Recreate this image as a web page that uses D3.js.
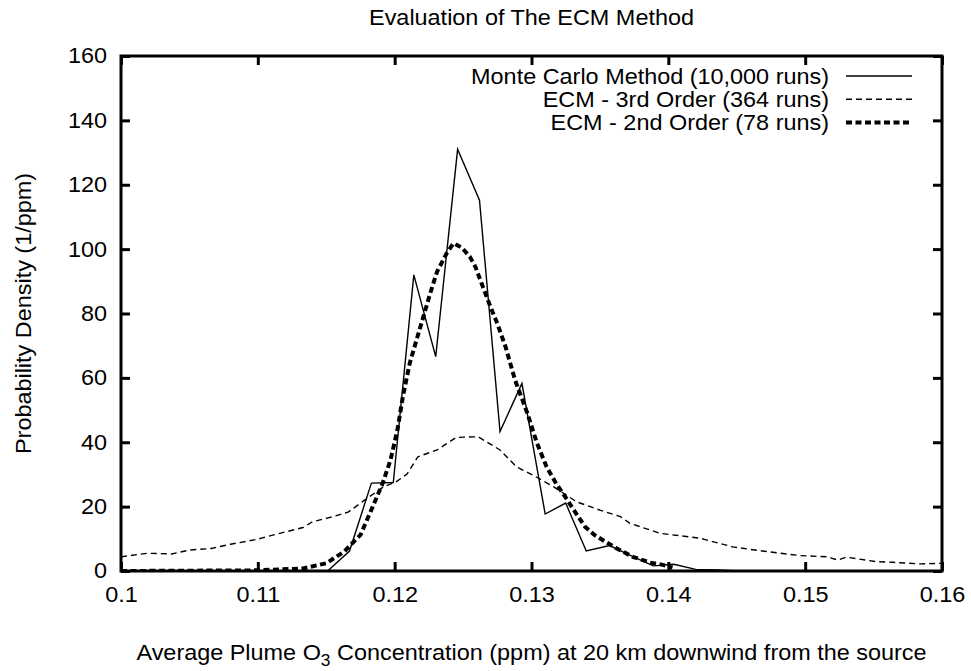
<!DOCTYPE html>
<html>
<head>
<meta charset="utf-8">
<script src="https://cdn.jsdelivr.net/npm/d3@7"></script>
<style>
  body { margin: 0; background: #fff; }
  svg text { font-family: "Liberation Sans", Arial, Helvetica, sans-serif; fill: #000; }
</style>
</head>
<body>
<svg class="chart" width="971" height="671"></svg>
<script>
var width = 971,
	height = 671,
	plotLeft = 121, plotRight = 942,
	plotTop = 56, plotBottom = 571;

// Monte Carlo histogram (10,000 runs)
var mcX = [0.1, 0.1151, 0.1167, 0.1183, 0.1199, 0.1214, 0.1230, 0.1246, 0.1262, 0.1277, 0.1293,
	0.1310, 0.1325, 0.1340, 0.1357, 0.1373, 0.1389, 0.1404, 0.1420, 0.1436, 0.1452, 0.16];
var mcY = [0, 0, 6.2, 27.3, 27.5, 92, 66.6, 131, 115.2, 43.3, 58.3,
	17.7, 21.1, 6.2, 7.9, 4.7, 1.6, 2.1, 0.5, 0.3, 0, 0];

// ECM 3rd order (364 runs)
var ecm3X = [0.1, 0.1019, 0.1037, 0.1050, 0.1066, 0.1080, 0.1099, 0.1116, 0.1133, 0.1140, 0.1155,
	0.1166, 0.1178, 0.1192, 0.1201, 0.1209, 0.1217, 0.1231, 0.1245, 0.1261, 0.1277, 0.1289,
	0.1301, 0.1316, 0.1333, 0.1350, 0.1365, 0.1372, 0.1394, 0.1423, 0.1447, 0.1467, 0.1496,
	0.1516, 0.1524, 0.1530, 0.1552, 0.1564, 0.1584, 0.16];
var ecm3Y = [4.4, 5.5, 5.3, 6.5, 7.0, 8.3, 9.8, 11.7, 13.5, 15.3, 16.9,
	18.3, 22, 26.2, 27.7, 30.1, 35.5, 37.6, 41.5, 41.7, 37.6, 32.4,
	29.8, 26.2, 21.5, 18.9, 16.9, 14.8, 11.7, 10.2, 7.5, 6.3, 4.8,
	4.4, 3.4, 4.3, 2.9, 2.7, 2.2, 2.4];

// ECM 2nd order (78 runs)
var ecm2X = [0.1, 0.11, 0.1133, 0.1150, 0.1163, 0.1175, 0.1184, 0.1191, 0.1197, 0.1202, 0.1206,
	0.1211, 0.1216, 0.1222, 0.1226, 0.1231, 0.1238, 0.1243, 0.1249, 0.1255, 0.1259, 0.1264,
	0.1270, 0.1275, 0.1281, 0.1288, 0.1297, 0.1304, 0.1311, 0.1318, 0.1323, 0.1331, 0.1339,
	0.1346, 0.1354, 0.1362, 0.1374, 0.1387, 0.1396, 0.1403];
var ecm2Y = [0, 0.2, 0.8, 2.4, 6, 11.2, 20, 27, 34.5, 43.8, 54.2,
	64.5, 71.8, 80.5, 86.3, 93, 98.7, 101.8, 100.5, 97.6, 94.5, 88.8,
	82.1, 76.9, 69.7, 59.3, 49, 39.7, 32.4, 27.2, 24.1, 18.9, 13.8,
	11.2, 9.1, 7.1, 4.4, 2.6, 1.9, 1.0];

var xTicks = [0.1, 0.11, 0.12, 0.13, 0.14, 0.15, 0.16];
var xTickLabels = ['0.1', '0.11', '0.12', '0.13', '0.14', '0.15', '0.16'];
var yTicks = [0, 20, 40, 60, 80, 100, 120, 140, 160];

var seriesNames = ['Monte Carlo Method (10,000 runs)', 'ECM - 3rd Order (364 runs)', 'ECM - 2nd Order (78 runs)'];

var xScale = d3.scaleLinear().domain([0.1, 0.16]).range([plotLeft, plotRight]);
var yScale = d3.scaleLinear().domain([0, 160]).range([plotBottom, plotTop]);

var svg = d3.select('.chart');

// the original font is a bit wider than Liberation Sans
var fontSize = 21.6,
	stretch = 1.085;

function placeText(sel, x, y, extra) {
	sel.attr('transform', 'translate(' + x + ',' + y + ')' + (extra || '') + ' scale(' + stretch + ',1)');
}

//Axes (gnuplot style: inward ticks, mirrored)
var xAxis = d3.axisBottom(xScale).tickValues(xTicks)
	.tickFormat((d, i) => xTickLabels[i]).tickSize(-9).tickPadding(16);
var xAxisTop = d3.axisTop(xScale).tickValues(xTicks).tickFormat('').tickSize(-9);
var yAxis = d3.axisLeft(yScale).tickValues(yTicks).tickSize(-9).tickPadding(14);
var yAxisRight = d3.axisRight(yScale).tickValues(yTicks).tickFormat('').tickSize(-9);

function styleAxis(g) {
	g.select('.domain').remove();
	g.selectAll('line').attr('stroke', '#000').attr('stroke-width', 3);
	g.selectAll('text').attr('font-size', fontSize).attr('fill', '#000')
		.attr('transform', 'scale(' + stretch + ',1)');
}

svg.append('g').attr('transform', 'translate(0,' + plotBottom + ')').call(xAxis).call(styleAxis);
svg.append('g').attr('transform', 'translate(0,' + plotTop + ')').call(xAxisTop).call(styleAxis);
var yg = svg.append('g').attr('transform', 'translate(' + plotLeft + ',0)').call(yAxis).call(styleAxis);
yg.selectAll('text').attr('x', -14 / stretch);
svg.append('g').attr('transform', 'translate(' + plotRight + ',0)').call(yAxisRight).call(styleAxis);

//Series
var line = d3.line().x(d => xScale(d[0])).y(d => yScale(d[1]));

var series = [
	{x: ecm3X, y: ecm3Y, width: 1.4, dash: '6,4'},
	{x: mcX, y: mcY, width: 1.4, dash: null},
	{x: ecm2X, y: ecm2Y, width: 4, dash: '6,3.5'}
];

var plot = svg.append('g');
plot.append('clipPath').attr('id', 'clip').append('rect')
	.attr('x', plotLeft).attr('y', plotTop).attr('width', plotRight - plotLeft).attr('height', plotBottom - plotTop);

series.forEach(function(s) {
	plot.append('path')
		.datum(s.x.map((v, i) => [v, s.y[i]]))
		.attr('d', line)
		.attr('fill', 'none')
		.attr('stroke', '#000')
		.attr('stroke-width', s.width)
		.attr('stroke-dasharray', s.dash)
		.attr('clip-path', 'url(#clip)');
});

//Border
svg.append('rect')
	.attr('x', plotLeft).attr('y', plotTop)
	.attr('width', plotRight - plotLeft).attr('height', plotBottom - plotTop)
	.attr('fill', 'none').attr('stroke', '#000').attr('stroke-width', 3);

//Legend
var legendStyles = [
	{width: 1.4, dash: null},
	{width: 1.4, dash: '6,4'},
	{width: 4, dash: '6,3.5'}
];
var legend = svg.append('g').selectAll('g')
	.data(seriesNames)
	.enter().append('g')
	.attr('transform', (d, i) => 'translate(0,' + (76 + i * 23.3) + ')');

legend.append('text')
	.attr('dy', '0.35em')
	.attr('text-anchor', 'end').attr('font-size', fontSize)
	.call(placeText, 829, 0)
	.text(d => d);

legend.append('line')
	.attr('x1', 846).attr('x2', 912)
	.attr('stroke', '#000')
	.attr('stroke-width', (d, i) => legendStyles[i].width)
	.attr('stroke-dasharray', (d, i) => legendStyles[i].dash);

//Title
svg.append('text')
	.attr('text-anchor', 'middle').attr('font-size', fontSize)
	.call(placeText, (plotLeft + plotRight) / 2, 25)
	.text('Evaluation of The ECM Method');

//Axis labels
var xl = svg.append('text')
	.attr('text-anchor', 'middle').attr('font-size', fontSize)
	.call(placeText, (plotLeft + plotRight) / 2, 660);
xl.append('tspan').text('Average Plume O');
xl.append('tspan').attr('font-size', 16).attr('dy', 6).text('3');
xl.append('tspan').attr('dy', -6).text(' Concentration (ppm) at 20 km downwind from the source');

svg.append('text')
	.attr('text-anchor', 'middle').attr('font-size', fontSize)
	.call(placeText, 31, (plotTop + plotBottom) / 2, ' rotate(-90)')
	.text('Probability Density (1/ppm)');
</script>
</body>
</html>
